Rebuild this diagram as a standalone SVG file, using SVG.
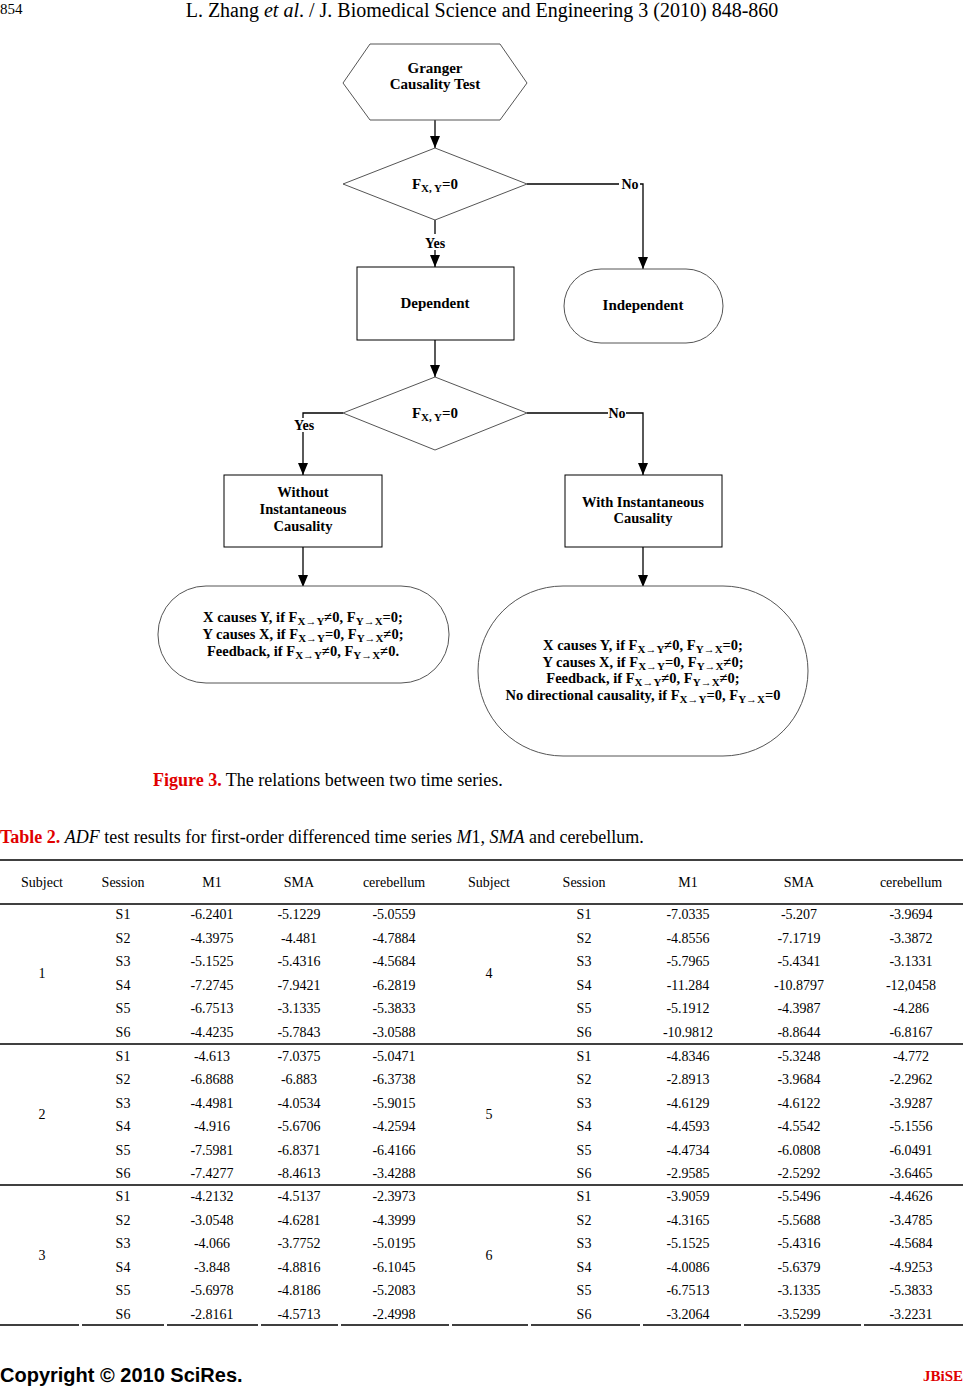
<svg xmlns="http://www.w3.org/2000/svg" width="965" height="1386" viewBox="0 0 965 1386">
<style>
text{font-family:"Liberation Serif","Times New Roman",serif;fill:#000}
.fc{font-weight:bold;font-size:15px;text-anchor:middle}
.fb{font-weight:bold;font-size:14.5px;text-anchor:middle}
.sub{font-size:11px}
.shape{fill:#fff;stroke:#000;stroke-width:1}
.soft{fill:#fff;stroke:#555;stroke-width:1}
.ln{fill:none;stroke:#000;stroke-width:1.3}
.lbl{font-weight:bold;font-size:14px;text-anchor:middle}
.t{font-size:14px;text-anchor:middle}
.tl{stroke:#000;stroke-width:1.3}
.red{fill:#e00000}
</style>
<defs>
<marker id="arr" markerWidth="12" markerHeight="10" refX="12" refY="5" orient="auto" markerUnits="userSpaceOnUse" viewBox="0 0 12 10">
<path d="M0,0 L12,5 L0,10 Z" fill="#000"/>
</marker>
</defs>
<rect width="965" height="1386" fill="#fff"/>

<!-- page header -->
<text x="0" y="14" font-size="15">854</text>
<text x="482" y="17" font-size="20" text-anchor="middle">L. Zhang <tspan font-style="italic">et al</tspan>. / J. Biomedical Science and Engineering 3 (2010) 848-860</text>

<!-- connectors -->
<g id="connectors">
<line class="ln" x1="435" y1="120" x2="435" y2="148" marker-end="url(#arr)"/>
<line class="ln" x1="435" y1="220" x2="435" y2="234"/>
<line class="ln" x1="435" y1="250" x2="435" y2="267" marker-end="url(#arr)"/>
<polyline class="ln" points="527,184 619,184"/>
<polyline class="ln" points="640,184 643,184 643,269" marker-end="url(#arr)"/>
<line class="ln" x1="435" y1="340" x2="435" y2="377" marker-end="url(#arr)"/>
<polyline class="ln" points="343,413 303,413 303,418"/>
<line class="ln" x1="303" y1="432" x2="303" y2="475" marker-end="url(#arr)"/>
<polyline class="ln" points="527,413 608,413"/>
<polyline class="ln" points="626,413 643,413 643,475" marker-end="url(#arr)"/>
<line class="ln" x1="303" y1="547" x2="303" y2="587" marker-end="url(#arr)"/>
<line class="ln" x1="643" y1="547" x2="643" y2="587" marker-end="url(#arr)"/>
<text class="lbl" x="435" y="248">Yes</text>
<text class="lbl" x="630" y="189">No</text>
<text class="lbl" x="304" y="430">Yes</text>
<text class="lbl" x="617" y="418">No</text>
</g>

<g id="start">
<polygon class="soft" points="343,83 370,44 500,44 527,83 500,120 370,120"/>
<text class="fc" x="435" y="73">Granger</text>
<text class="fc" x="435" y="89">Causality Test</text>
</g>

<g id="decision1">
<polygon class="soft" points="435,148 527,184 435,220 343,184"/>
<text class="fc" x="435" y="189">F<tspan class="sub" dy="3">X, Y</tspan><tspan dy="-3">=0</tspan></text>
</g>

<g id="dependent">
<rect class="shape" x="357" y="267" width="157" height="73"/>
<text class="fc" x="435" y="308">Dependent</text>
</g>

<g id="independent">
<rect class="soft" x="564" y="269" width="159" height="74" rx="37" ry="37"/>
<text class="fc" x="643" y="310">Independent</text>
</g>

<g id="decision2">
<polygon class="soft" points="435,377 527,413 435,450 343,413"/>
<text class="fc" x="435" y="418">F<tspan class="sub" dy="3">X, Y</tspan><tspan dy="-3">=0</tspan></text>
</g>

<g id="without">
<rect class="shape" x="224" y="475" width="158" height="72"/>
<text class="fb" x="303" y="497">Without</text>
<text class="fb" x="303" y="514">Instantaneous</text>
<text class="fb" x="303" y="531">Causality</text>
</g>

<g id="with">
<rect class="shape" x="565" y="475" width="157" height="72"/>
<text class="fb" x="643" y="507">With Instantaneous</text>
<text class="fb" x="643" y="523">Causality</text>
</g>

<g id="result1">
<rect class="soft" x="158" y="586" width="291" height="97" rx="48" ry="48"/>
<text class="fb" x="303" y="622">X causes Y, if F<tspan class="sub" dy="3">X→Y</tspan><tspan dy="-3">≠0, F</tspan><tspan class="sub" dy="3">Y→X</tspan><tspan dy="-3">=0;</tspan></text>
<text class="fb" x="303" y="639">Y causes X, if F<tspan class="sub" dy="3">X→Y</tspan><tspan dy="-3">=0, F</tspan><tspan class="sub" dy="3">Y→X</tspan><tspan dy="-3">≠0;</tspan></text>
<text class="fb" x="303" y="656">Feedback, if F<tspan class="sub" dy="3">X→Y</tspan><tspan dy="-3">≠0, F</tspan><tspan class="sub" dy="3">Y→X</tspan><tspan dy="-3">≠0.</tspan></text>
</g>

<g id="result2">
<rect class="soft" x="478" y="586" width="330" height="170" rx="85" ry="85"/>
<text class="fb" x="643" y="650">X causes Y, if F<tspan class="sub" dy="3">X→Y</tspan><tspan dy="-3">≠0, F</tspan><tspan class="sub" dy="3">Y→X</tspan><tspan dy="-3">=0;</tspan></text>
<text class="fb" x="643" y="667">Y causes X, if F<tspan class="sub" dy="3">X→Y</tspan><tspan dy="-3">=0, F</tspan><tspan class="sub" dy="3">Y→X</tspan><tspan dy="-3">≠0;</tspan></text>
<text class="fb" x="643" y="683">Feedback, if F<tspan class="sub" dy="3">X→Y</tspan><tspan dy="-3">≠0, F</tspan><tspan class="sub" dy="3">Y→X</tspan><tspan dy="-3">≠0;</tspan></text>
<text class="fb" x="643" y="700">No directional causality, if F<tspan class="sub" dy="3">X→Y</tspan><tspan dy="-3">=0, F</tspan><tspan class="sub" dy="3">Y→X</tspan><tspan dy="-3">=0</tspan></text>
</g>

<!-- captions -->
<text x="153" y="786" font-size="18"><tspan class="red" font-weight="bold">Figure 3.</tspan> The relations between two time series.</text>
<text x="0" y="843" font-size="18"><tspan class="red" font-weight="bold">Table 2.</tspan> <tspan font-style="italic">ADF</tspan> test results for first-order differenced time series <tspan font-style="italic">M</tspan>1<tspan font-style="italic">, SMA</tspan> and cerebellum.</text>

<!-- table -->
<g id="table">
<line class="tl" x1="0" y1="860" x2="963" y2="860"/>
<line class="tl" x1="0" y1="904" x2="963" y2="904"/>
<line class="tl" x1="0" y1="1044" x2="963" y2="1044"/>
<line class="tl" x1="0" y1="1185" x2="963" y2="1185"/>
<path class="tl" d="M0,1325H79M82,1325H164M167,1325H258M261,1325H338M341,1325H449M452,1325H528M531,1325H640M643,1325H741M744,1325H861M864,1325H963"/>
<g class="t">
<text x="42" y="887">Subject</text><text x="123" y="887">Session</text><text x="212" y="887">M1</text><text x="299" y="887">SMA</text><text x="394" y="887">cerebellum</text>
<text x="489" y="887">Subject</text><text x="584" y="887">Session</text><text x="688" y="887">M1</text><text x="799" y="887">SMA</text><text x="911" y="887">cerebellum</text>

<text x="42" y="978">1</text><text x="489" y="978">4</text>
<text x="42" y="1119">2</text><text x="489" y="1119">5</text>
<text x="42" y="1260">3</text><text x="489" y="1260">6</text>

<text x="123" y="919">S1</text><text x="212" y="919">-6.2401</text><text x="299" y="919">-5.1229</text><text x="394" y="919">-5.0559</text><text x="584" y="919">S1</text><text x="688" y="919">-7.0335</text><text x="799" y="919">-5.207</text><text x="911" y="919">-3.9694</text>
<text x="123" y="943">S2</text><text x="212" y="943">-4.3975</text><text x="299" y="943">-4.481</text><text x="394" y="943">-4.7884</text><text x="584" y="943">S2</text><text x="688" y="943">-4.8556</text><text x="799" y="943">-7.1719</text><text x="911" y="943">-3.3872</text>
<text x="123" y="966">S3</text><text x="212" y="966">-5.1525</text><text x="299" y="966">-5.4316</text><text x="394" y="966">-4.5684</text><text x="584" y="966">S3</text><text x="688" y="966">-5.7965</text><text x="799" y="966">-5.4341</text><text x="911" y="966">-3.1331</text>
<text x="123" y="990">S4</text><text x="212" y="990">-7.2745</text><text x="299" y="990">-7.9421</text><text x="394" y="990">-6.2819</text><text x="584" y="990">S4</text><text x="688" y="990">-11.284</text><text x="799" y="990">-10.8797</text><text x="911" y="990">-12,0458</text>
<text x="123" y="1013">S5</text><text x="212" y="1013">-6.7513</text><text x="299" y="1013">-3.1335</text><text x="394" y="1013">-5.3833</text><text x="584" y="1013">S5</text><text x="688" y="1013">-5.1912</text><text x="799" y="1013">-4.3987</text><text x="911" y="1013">-4.286</text>
<text x="123" y="1037">S6</text><text x="212" y="1037">-4.4235</text><text x="299" y="1037">-5.7843</text><text x="394" y="1037">-3.0588</text><text x="584" y="1037">S6</text><text x="688" y="1037">-10.9812</text><text x="799" y="1037">-8.8644</text><text x="911" y="1037">-6.8167</text>

<text x="123" y="1061">S1</text><text x="212" y="1061">-4.613</text><text x="299" y="1061">-7.0375</text><text x="394" y="1061">-5.0471</text><text x="584" y="1061">S1</text><text x="688" y="1061">-4.8346</text><text x="799" y="1061">-5.3248</text><text x="911" y="1061">-4.772</text>
<text x="123" y="1084">S2</text><text x="212" y="1084">-6.8688</text><text x="299" y="1084">-6.883</text><text x="394" y="1084">-6.3738</text><text x="584" y="1084">S2</text><text x="688" y="1084">-2.8913</text><text x="799" y="1084">-3.9684</text><text x="911" y="1084">-2.2962</text>
<text x="123" y="1108">S3</text><text x="212" y="1108">-4.4981</text><text x="299" y="1108">-4.0534</text><text x="394" y="1108">-5.9015</text><text x="584" y="1108">S3</text><text x="688" y="1108">-4.6129</text><text x="799" y="1108">-4.6122</text><text x="911" y="1108">-3.9287</text>
<text x="123" y="1131">S4</text><text x="212" y="1131">-4.916</text><text x="299" y="1131">-5.6706</text><text x="394" y="1131">-4.2594</text><text x="584" y="1131">S4</text><text x="688" y="1131">-4.4593</text><text x="799" y="1131">-4.5542</text><text x="911" y="1131">-5.1556</text>
<text x="123" y="1155">S5</text><text x="212" y="1155">-7.5981</text><text x="299" y="1155">-6.8371</text><text x="394" y="1155">-6.4166</text><text x="584" y="1155">S5</text><text x="688" y="1155">-4.4734</text><text x="799" y="1155">-6.0808</text><text x="911" y="1155">-6.0491</text>
<text x="123" y="1178">S6</text><text x="212" y="1178">-7.4277</text><text x="299" y="1178">-8.4613</text><text x="394" y="1178">-3.4288</text><text x="584" y="1178">S6</text><text x="688" y="1178">-2.9585</text><text x="799" y="1178">-2.5292</text><text x="911" y="1178">-3.6465</text>

<text x="123" y="1201">S1</text><text x="212" y="1201">-4.2132</text><text x="299" y="1201">-4.5137</text><text x="394" y="1201">-2.3973</text><text x="584" y="1201">S1</text><text x="688" y="1201">-3.9059</text><text x="799" y="1201">-5.5496</text><text x="911" y="1201">-4.4626</text>
<text x="123" y="1225">S2</text><text x="212" y="1225">-3.0548</text><text x="299" y="1225">-4.6281</text><text x="394" y="1225">-4.3999</text><text x="584" y="1225">S2</text><text x="688" y="1225">-4.3165</text><text x="799" y="1225">-5.5688</text><text x="911" y="1225">-3.4785</text>
<text x="123" y="1248">S3</text><text x="212" y="1248">-4.066</text><text x="299" y="1248">-3.7752</text><text x="394" y="1248">-5.0195</text><text x="584" y="1248">S3</text><text x="688" y="1248">-5.1525</text><text x="799" y="1248">-5.4316</text><text x="911" y="1248">-4.5684</text>
<text x="123" y="1272">S4</text><text x="212" y="1272">-3.848</text><text x="299" y="1272">-4.8816</text><text x="394" y="1272">-6.1045</text><text x="584" y="1272">S4</text><text x="688" y="1272">-4.0086</text><text x="799" y="1272">-5.6379</text><text x="911" y="1272">-4.9253</text>
<text x="123" y="1295">S5</text><text x="212" y="1295">-5.6978</text><text x="299" y="1295">-4.8186</text><text x="394" y="1295">-5.2083</text><text x="584" y="1295">S5</text><text x="688" y="1295">-6.7513</text><text x="799" y="1295">-3.1335</text><text x="911" y="1295">-5.3833</text>
<text x="123" y="1319">S6</text><text x="212" y="1319">-2.8161</text><text x="299" y="1319">-4.5713</text><text x="394" y="1319">-2.4998</text><text x="584" y="1319">S6</text><text x="688" y="1319">-3.2064</text><text x="799" y="1319">-3.5299</text><text x="911" y="1319">-3.2231</text>
</g>
</g>

<!-- footer -->
<text x="0" y="1382" font-weight="bold" font-size="20" style="font-family:'Liberation Sans',Arial,sans-serif">Copyright © 2010 SciRes.</text>
<text x="963" y="1381" font-weight="bold" font-size="15" text-anchor="end" class="red">JBiSE</text>
</svg>
